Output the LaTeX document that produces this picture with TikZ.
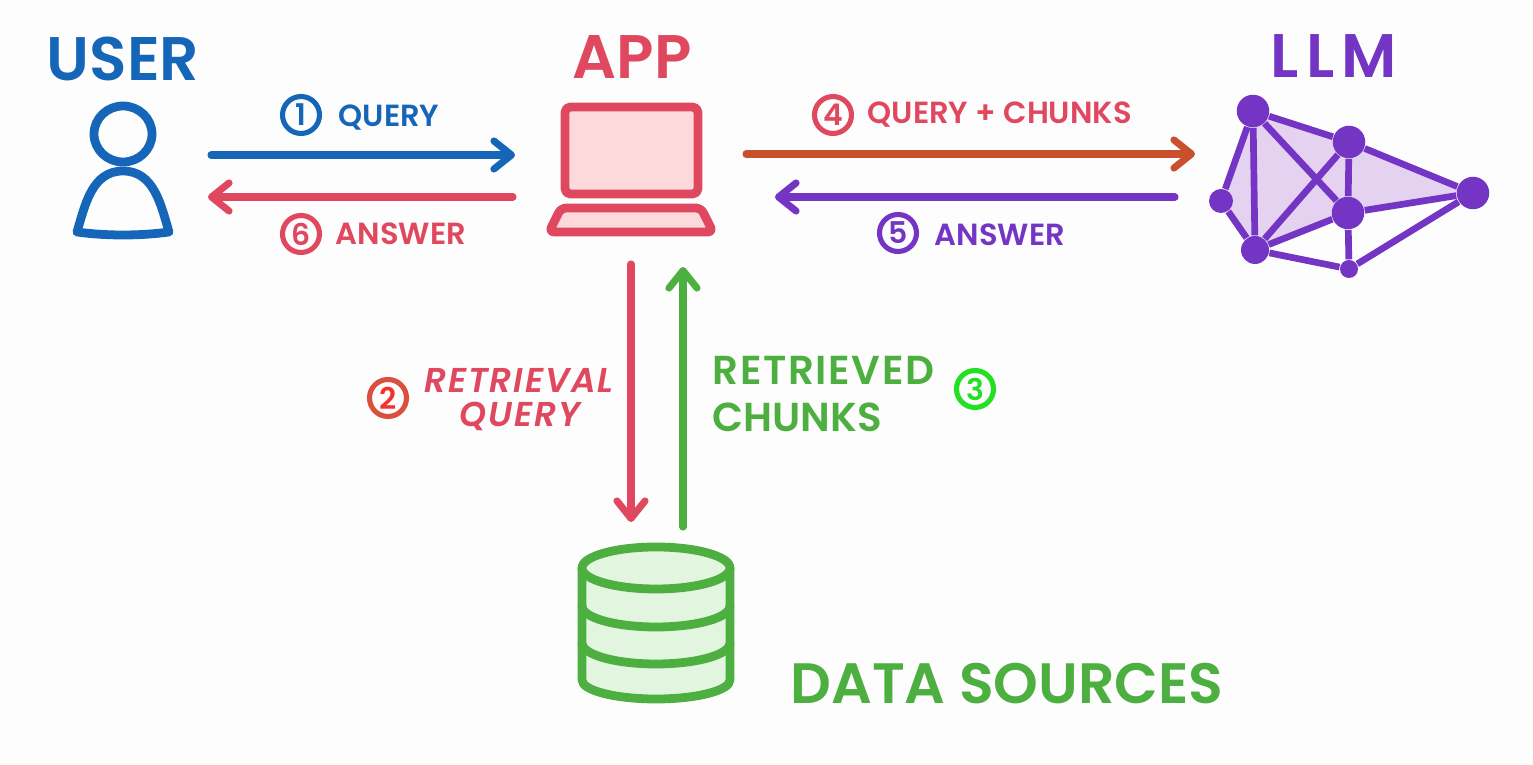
\documentclass[tikz,border=0pt]{standalone}
\usepackage{fontspec}
\setsansfont{Poppins}[BoldFont={Poppins SemiBold},BoldItalicFont={Poppins SemiBold Italic}]
\usetikzlibrary{arrows.meta,positioning,calc}
\definecolor{Paper}{HTML}{FDFDFD}
\definecolor{UserBlue}{HTML}{1565B8}
\definecolor{AppRed}{HTML}{E0485F}
\definecolor{AppLight}{HTML}{FDD9DB}
\definecolor{SourceGreen}{HTML}{4CAF3F}
\definecolor{SourceLight}{HTML}{E2F6DF}
\definecolor{BrightGreen}{HTML}{22E022}
\definecolor{LlmPurple}{HTML}{7434C4}
\definecolor{LlmLight}{HTML}{E4D2F0}
\definecolor{FlowOrange}{HTML}{C8502D}
\definecolor{RingRed}{HTML}{D9503F}
\definecolor{DigitRed}{HTML}{F53030}
\tikzset{
  heading/.style={font=\sffamily\bfseries\fontsize{17.5}{20}\selectfont,inner sep=0pt},
  flowlabel/.style={font=\sffamily\bfseries\fontsize{8.7}{10}\selectfont,inner sep=0pt},
  slantlabel/.style={font=\sffamily\bfseries\itshape\fontsize{9.8}{11}\selectfont\addfontfeature{LetterSpace=5},inner sep=0pt},
  sidelabel/.style={font=\sffamily\bfseries\fontsize{11.5}{12}\selectfont,inner sep=0pt,anchor=west},
  numdisc/.style={circle,draw,line width=1.45pt,minimum size=3.7mm,inner sep=0pt,font=\sffamily\bfseries\fontsize{8.5}{10}\selectfont},
  flow/.style={line width=2pt,line cap=round,-{Straight Barb[length=5pt,width=8pt,round,line width=2pt]}},
  outline/.style={line width=2.5pt,line join=round,line cap=round},
  llmdot/.style={circle,fill=LlmPurple,inner sep=0pt},
  llmedge/.style={LlmPurple,line width=1.9pt}
}
\begin{document}
\begin{tikzpicture}[x=0.1mm,y=-0.1mm]
\useasboundingbox[fill=Paper] (0,0) rectangle (1533,765);
\node[heading,text=UserBlue] (userhead) at (123,59) {USER};
\node[heading,text=AppRed] (apphead) at (632,57) {APP};
\node[heading,text=LlmPurple,font=\sffamily\bfseries\fontsize{17.5}{20}\selectfont\addfontfeature{LetterSpace=12}] (llmhead) at (1334,56) {LLM};
\node[heading,text=SourceGreen,font=\sffamily\bfseries\fontsize{16.2}{20}\selectfont] (datahead) at (1007,684) {DATA SOURCES};
\draw[outline,UserBlue] (123,134) circle [x radius=29,y radius=28];
\draw[outline,UserBlue] (77,232) .. controls (85,205) and (92,171) .. (123,171) .. controls (154,171) and (161,205) .. (169,232) .. controls (140,236) and (106,236) .. (77,232) -- cycle;
\draw[outline,AppRed,fill=AppLight,rounded corners=1.5pt] (565,107) -- (698,107) -- (698,194) -- (565,194) -- cycle;
\draw[outline,AppRed,fill=AppLight,rounded corners=1.5pt] (561,208) -- (701,208) -- (713,232) -- (549,232) -- cycle;
\fill[SourceLight] (582,568) -- (582,680) arc [start angle=180,end angle=360,x radius=74,y radius=-19] -- (730,568) -- cycle;
\draw[outline,SourceGreen] (582,568) -- (582,680) arc [start angle=180,end angle=360,x radius=74,y radius=-19] -- (730,568);
\draw[outline,SourceGreen] (582,606) arc [start angle=180,end angle=360,x radius=74,y radius=-21];
\draw[outline,SourceGreen] (582,643) arc [start angle=180,end angle=360,x radius=74,y radius=-21];
\draw[outline,SourceGreen,fill=SourceLight] (656,568) circle [x radius=74,y radius=21];
\fill[LlmLight] (1253,111) -- (1349,142) -- (1473,193) -- (1348,213) -- (1255,250) -- (1221,201) -- cycle;
\node[llmdot,minimum size=3.25mm] (llma) at (1253,111) {};
\node[llmdot,minimum size=3.25mm] (llmb) at (1349,142) {};
\node[llmdot,minimum size=3.25mm] (llmc) at (1473,193) {};
\node[llmdot,minimum size=3.25mm] (llmd) at (1348,213) {};
\node[llmdot,minimum size=2.4mm] (llme) at (1221,201) {};
\node[llmdot,minimum size=2.8mm] (llmf) at (1255,250) {};
\node[llmdot,minimum size=1.8mm] (llmg) at (1349,269) {};
\draw[llmedge] (llma) -- (llmb);
\draw[llmedge] (llmb) -- (llmc);
\draw[llmedge] (llmc) -- (llmd);
\draw[llmedge] (llmc) -- (llmg);
\draw[llmedge] (llma) -- (llme);
\draw[llmedge] (llme) -- (llmf);
\draw[llmedge] (llma) -- (llmf);
\draw[llmedge] (llma) -- (llmd);
\draw[llmedge] (llmb) -- (llmf);
\draw[llmedge] (llmb) -- (llmd);
\draw[llmedge] (llmd) -- (llmg);
\draw[llmedge] (llmd) -- (llmf);
\draw[llmedge] (llmf) -- (llmg);
\coordinate (userout) at (211,155);
\coordinate (appin) at (515,155);
\coordinate (appout) at (513,197);
\coordinate (userin) at (208,197);
\coordinate (appright) at (746,154);
\coordinate (llmin) at (1195,154);
\coordinate (llmout) at (1175,197);
\coordinate (appback) at (775,197);
\coordinate (appdown) at (631,264);
\coordinate (datain) at (631,522);
\coordinate (dataout) at (683,527);
\coordinate (appup) at (683,267);
\draw[flow,UserBlue] (userout) -- (appin);
\draw[flow,AppRed] (appout) -- (userin);
\draw[flow,FlowOrange] (appright) -- (llmin);
\draw[flow,LlmPurple] (llmout) -- (appback);
\draw[flow,AppRed] (appdown) -- (datain);
\draw[flow,SourceGreen] (dataout) -- (appup);
\node[numdisc,draw=UserBlue,text=UserBlue] (numone) at (301,115) {1};
\node[flowlabel,text=UserBlue,anchor=west] (querytext) at (338,118) {QUERY};
\node[numdisc,draw=AppRed,text=AppRed] (numsix) at (301,234) {6};
\node[flowlabel,text=AppRed,anchor=west] (answerleft) at (335,234) {ANSWER};
\node[numdisc,draw=AppRed,text=AppRed] (numfour) at (833,115) {4};
\node[flowlabel,text=AppRed,anchor=west] (querychunks) at (867,115) {QUERY + CHUNKS};
\node[numdisc,draw=LlmPurple,text=LlmPurple] (numfive) at (898,233) {5};
\node[flowlabel,text=LlmPurple,anchor=west] (answerright) at (934,235) {ANSWER};
\node[numdisc,draw=RingRed,text=DigitRed] (numtwo) at (388,398) {2};
\node[slantlabel,text=AppRed] (retrievaltext) at (519,380) {RETRIEVAL};
\node[slantlabel,text=AppRed] (querydown) at (520,416) {QUERY};
\node[sidelabel,text=SourceGreen,font=\sffamily\bfseries\fontsize{11.5}{12}\selectfont\addfontfeature{LetterSpace=4}] (retrievedtext) at (712,370) {RETRIEVED};
\node[sidelabel,text=SourceGreen] (chunkstext) at (712,417) {CHUNKS};
\node[numdisc,draw=BrightGreen,text=BrightGreen] (numthree) at (975,389) {3};
\end{tikzpicture}
\end{document}
